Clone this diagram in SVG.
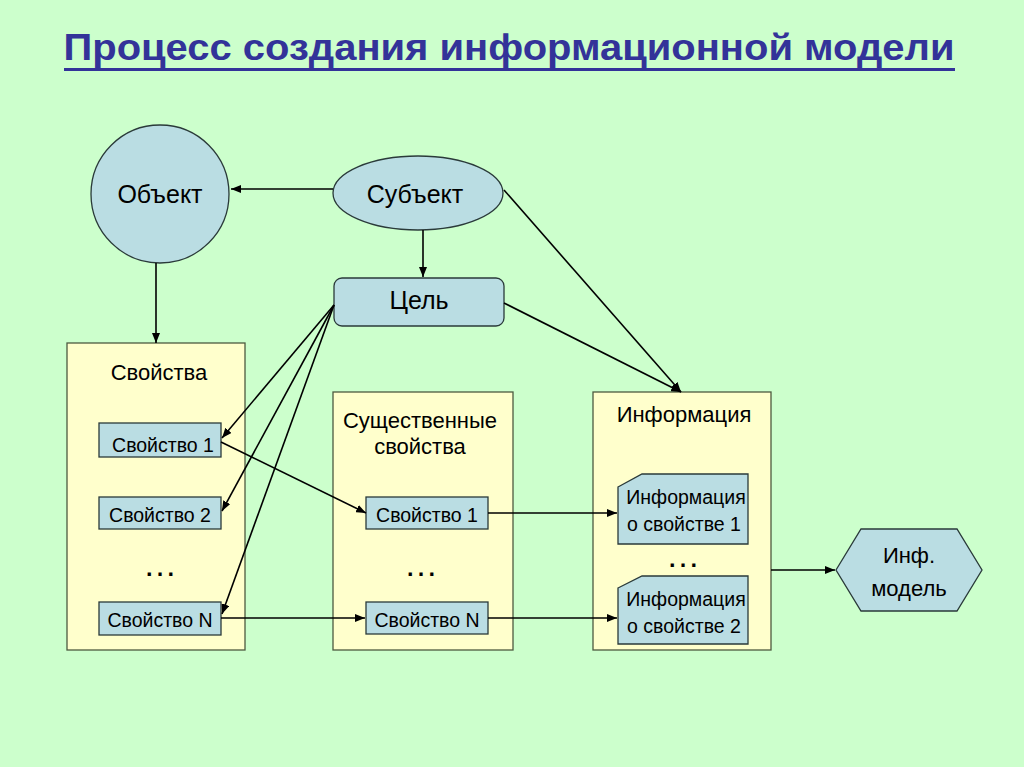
<svg xmlns="http://www.w3.org/2000/svg" width="1024" height="767" viewBox="0 0 1024 767">
<defs>
<marker id="ah" viewBox="0 0 10 8" refX="10" refY="4" markerWidth="10" markerHeight="8" markerUnits="userSpaceOnUse" orient="auto">
<path d="M0,0 L10,4 L0,8 Z" fill="#000"/>
</marker>
<style>
.bg{fill:#CCFFCC}
.node{fill:#BADDE3;stroke:#2a3a3a;stroke-width:1.3}
.cont{fill:#FFFFCC;stroke:#4d5a40;stroke-width:1.3}
.t{font-family:"Liberation Sans",Arial,sans-serif;fill:#000;text-anchor:middle}
.c{fill:none;stroke:#000;stroke-width:1.6;marker-end:url(#ah)}
</style>
</defs>
<rect class="bg" x="0" y="0" width="1024" height="767"/>
<g id="title">
<text x="509" y="60" font-family="'Liberation Sans',Arial,sans-serif" font-weight="bold" font-size="37" fill="#333399" text-anchor="middle" textLength="891" lengthAdjust="spacingAndGlyphs">Процесс создания информационной модели</text>
<rect x="64" y="68" width="891" height="3" fill="#333399"/>
</g>
<g id="svoistva">
<rect class="cont" x="67" y="343" width="178" height="307"/>
<text class="t" x="159" y="380" font-size="22">Свойства</text>
</g>
<g id="sush">
<rect class="cont" x="333" y="392" width="180" height="258"/>
<text class="t" x="420" y="428" font-size="22">Существенные</text>
<text class="t" x="420" y="454" font-size="22">свойства</text>
</g>
<g id="info">
<rect class="cont" x="593" y="392" width="178" height="258"/>
<text class="t" x="684" y="422" font-size="22">Информация</text>
</g>
<g id="obj">
<circle class="node" cx="160" cy="194" r="69"/>
<text class="t" x="160" y="203" font-size="25">Объект</text>
</g>
<g id="subj">
<ellipse class="node" cx="418" cy="193" rx="85" ry="37"/>
<text class="t" x="415" y="203" font-size="25">Субъект</text>
</g>
<g id="goal">
<rect class="node" x="334" y="278" width="170" height="48" rx="8"/>
<text class="t" x="419" y="309" font-size="25">Цель</text>
</g>
<g id="p1">
<rect class="node" x="99" y="423" width="122" height="34"/>
<text class="t" x="163" y="452" font-size="19.5">Свойство 1</text>
</g>
<g id="p2">
<rect class="node" x="99" y="497" width="122" height="32"/>
<text class="t" x="160" y="522" font-size="19.5">Свойство 2</text>
</g>
<text class="t" x="160" y="576" font-size="34">…</text>
<g id="pN">
<rect class="node" x="99" y="602" width="122" height="33"/>
<text class="t" x="160" y="627" font-size="19.5">Свойство N</text>
</g>
<g id="e1">
<rect class="node" x="366" y="497" width="122" height="32"/>
<text class="t" x="427" y="522" font-size="19.5">Свойство 1</text>
</g>
<text class="t" x="421" y="576" font-size="34">…</text>
<g id="eN">
<rect class="node" x="366" y="602" width="122" height="32"/>
<text class="t" x="427" y="627" font-size="19.5">Свойство N</text>
</g>
<g id="i1">
<path class="node" d="M618,487 L642,474 L748,474 L748,544 L618,544 Z"/>
<text class="t" x="686" y="504" font-size="19.5">Информация</text>
<text class="t" x="684" y="531" font-size="19.5">о свойстве 1</text>
</g>
<text class="t" x="683" y="567" font-size="34">…</text>
<g id="i2">
<path class="node" d="M618,588 L642,576 L748,576 L748,644 L618,644 Z"/>
<text class="t" x="686" y="606" font-size="19.5">Информация</text>
<text class="t" x="684" y="633" font-size="19.5">о свойстве 2</text>
</g>
<g id="model">
<path class="node" d="M836,570 L861,529 L957,529 L982,570 L957,611 L861,611 Z"/>
<text class="t" x="909" y="563" font-size="22">Инф.</text>
<text class="t" x="909" y="596" font-size="22">модель</text>
</g>
<g id="connectors">
<line class="c" x1="333" y1="189" x2="231" y2="189"/>
<line class="c" x1="423" y1="230" x2="423" y2="277"/>
<line class="c" x1="156" y1="263" x2="156" y2="343"/>
<line class="c" x1="334" y1="305" x2="222" y2="438"/>
<line class="c" x1="334" y1="305" x2="222" y2="511"/>
<line class="c" x1="334" y1="305" x2="222" y2="614"/>
<line class="c" x1="221" y1="442" x2="366" y2="513"/>
<line class="c" x1="221" y1="618" x2="365" y2="618"/>
<line class="c" x1="488" y1="513" x2="617" y2="513"/>
<line class="c" x1="488" y1="618" x2="617" y2="618"/>
<line class="c" x1="504" y1="190" x2="681" y2="392"/>
<line class="c" x1="504" y1="303" x2="681" y2="392"/>
<line class="c" x1="771" y1="570" x2="835" y2="570"/>
</g>
</svg>
